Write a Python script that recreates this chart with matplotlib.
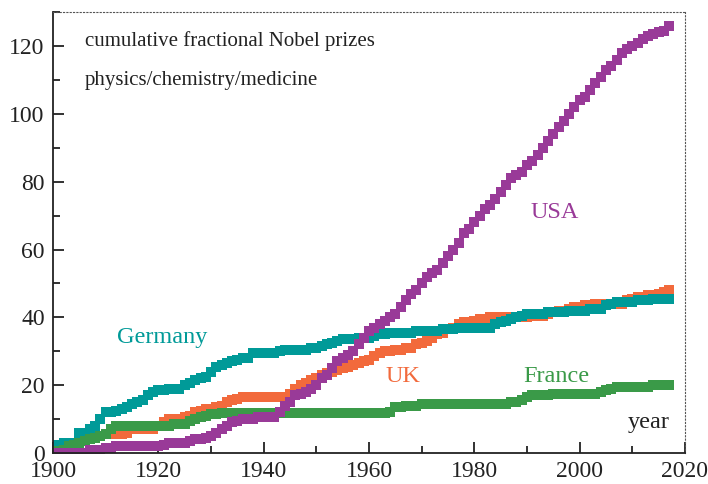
import numpy as np
import matplotlib
matplotlib.use('Agg')
import matplotlib.pyplot as plt
from matplotlib.ticker import MultipleLocator

# cumulative fractional Nobel prizes (physics/chemistry/medicine), 1901-2017
years = list(range(1901, 2018))

usa = [0, 0, 0, 0, 0, 0, 1, 1, 1, 1.5,
       1.5, 2, 2, 2, 2, 2, 2, 2, 2, 2,
       2.5, 3, 3, 3, 3, 3.5, 4, 4, 4.5, 5,
       6, 7, 8, 9, 9.5, 10, 10, 10, 10.5, 10.5,
       10.5, 10.5, 12, 14, 15, 17, 17.5, 18, 19, 20,
       22, 23, 25, 27, 28, 29, 30, 32, 34, 36,
       37, 38, 39, 40, 41, 43, 45, 47, 48, 50,
       52, 53, 54, 56, 58, 60, 62, 65, 66, 68,
       70, 72, 73, 75, 77, 79, 81, 82, 83, 85,
       86, 88, 90, 92, 94, 96, 98, 100, 102, 104,
       105, 107, 109, 111, 113, 114, 116, 118, 119, 120,
       121, 122, 123, 123.5, 124, 124.5, 126]

uk = [0.5, 1, 1, 3, 3.5, 4, 5, 5, 5, 5.5,
      5.5, 5.5, 5.5, 6, 7, 7, 7, 7, 7, 8,
      9, 10, 10, 10, 10.5, 11, 12, 12.5, 13, 13,
      13.5, 14, 15, 15.5, 16, 16.5, 16.5, 16.5, 16.5, 16.5,
      16.5, 16.5, 16.5, 16.5, 17.5, 19, 20, 20.5, 21.5, 22,
      23, 23.5, 24, 24.5, 25, 25.5, 26, 26.5, 27, 27.5,
      28.5, 29.5, 30, 30, 30.5, 30.5, 31, 31, 32, 32.5,
      33, 34, 35, 35.5, 36.5, 37, 38, 38.5, 38.5, 39,
      39.5, 39.5, 40, 40, 40, 40, 40, 40, 40, 40,
      40.5, 40.5, 40.5, 41, 41.5, 42, 42, 42.5, 43, 43,
      43.5, 43.5, 44, 44, 44, 44, 44, 44, 45, 45.5,
      46, 46, 46.5, 46.5, 47, 47.5, 48]

germany = [2.5, 3, 3, 3, 6, 6, 7, 8, 10, 12,
           12, 12.5, 13, 13.5, 14.5, 15, 15.5, 17, 18, 18.5,
           18.5, 19, 19, 19, 20, 20.5, 21.5, 22, 22.5, 24,
           25.5, 26, 26.5, 27, 27.5, 28, 28, 29.5, 29.5, 29.5,
           29.5, 29.5, 30, 30.5, 30.5, 30.5, 30.5, 30.5, 31, 31,
           31.5, 32, 32.5, 33, 33.5, 33.5, 33.5, 34, 34, 34,
           34.5, 35, 35, 35.5, 35.5, 35.5, 35.5, 35.5, 36, 36,
           36, 36, 36, 36.5, 36.5, 36.5, 37, 37, 37, 37,
           37, 37, 37, 38, 38.5, 39, 39.5, 40, 40.5, 41,
           41, 41, 41, 41.5, 41.5, 41.5, 41.5, 42, 42, 42,
           42, 42.5, 42.5, 42.5, 43.5, 44, 44.5, 44.5, 44.5, 44.5,
           45, 45, 45, 45.5, 45.5, 45.5, 45.5]

france = [0.5, 1, 2, 2.5, 3, 3.5, 4, 4.5, 5, 5.5,
          7, 8, 8, 8, 8, 8, 8, 8, 8, 8,
          8, 8, 8.5, 8.5, 8.5, 9.5, 10, 10.5, 11, 11.5,
          11.5, 11.8, 11.8, 11.8, 11.8, 11.8, 11.8, 11.8, 11.8, 11.8,
          11.8, 11.8, 11.8, 11.8, 11.8, 11.8, 11.8, 11.8, 11.8, 11.8,
          11.8, 11.8, 11.8, 11.8, 11.8, 11.8, 11.8, 11.8, 11.8, 11.8,
          11.8, 11.8, 11.8, 12, 13.5, 13.5, 14, 14, 14, 14.5,
          14.5, 14.5, 14.5, 14.5, 14.5, 14.5, 14.5, 14.5, 14.5, 14.5,
          14.5, 14.5, 14.5, 14.5, 14.5, 14.5, 15, 15, 15.5, 16.5,
          17, 17, 17, 17, 17.5, 17.5, 17.5, 17.5, 17.5, 17.5,
          17.5, 17.5, 17.5, 18, 18.5, 19, 19.5, 19.5, 19.5, 19.5,
          19.5, 19.5, 19.5, 20, 20, 20, 20]

c_usa = '#993a98'
c_uk = '#f26a3c'
c_ger = '#009a98'
c_fra = '#3a9a48'

plt.rcParams['font.family'] = ['Liberation Serif', 'DejaVu Serif']

fig = plt.figure(figsize=(7.08, 4.84), dpi=100)
ax = fig.add_axes([0.075, 0.064, 0.8925, 0.911])

ms = 6.6
ax.plot(years, uk, 's', color=c_uk, ms=ms, mew=0)
ax.plot(years, germany, 's', color=c_ger, ms=ms, mew=0)
ax.plot(years, france, 's', color=c_fra, ms=ms, mew=0)
ax.plot(years, usa, 's', color=c_usa, ms=ms, mew=0)

ax.set_xlim(1900, 2020)
ax.set_ylim(0, 130)
ax.xaxis.set_major_locator(MultipleLocator(20))
ax.xaxis.set_minor_locator(MultipleLocator(10))
ax.yaxis.set_major_locator(MultipleLocator(20))
ax.yaxis.set_minor_locator(MultipleLocator(10))
ax.tick_params(which='both', direction='in', width=1.3, colors='#222222',
               labelsize=17, top=False, right=False)
ax.tick_params(which='major', length=8)
ax.tick_params(which='minor', length=5)
ax.tick_params(axis='y', pad=6)
ax.tick_params(axis='x', pad=6)

for s in ['left', 'bottom']:
    ax.spines[s].set_linewidth(1.3)
    ax.spines[s].set_color('#222222')
for s in ['top', 'right']:
    ax.spines[s].set_linestyle((0, (1, 2)))
    ax.spines[s].set_linewidth(0.8)
    ax.spines[s].set_color('#555555')

ax.text(0.05, 0.935, 'cumulative fractional Nobel prizes', transform=ax.transAxes,
        fontsize=15, color='#222222', va='center')
ax.text(0.05, 0.845, 'physics/chemistry/medicine', transform=ax.transAxes,
        fontsize=15, color='#222222', va='center')

ax.text(1920.8, 34, 'Germany', color=c_ger, fontsize=17.5, ha='center', va='center')
ax.text(1995.3, 71, 'USA', color=c_usa, fontsize=17.5, ha='center', va='center')
ax.text(1966.4, 22.5, 'UK', color=c_uk, fontsize=17.5, ha='center', va='center')
ax.text(1995.6, 22.5, 'France', color=c_fra, fontsize=17.5, ha='center', va='center')
ax.text(2017, 9, 'year', color='#222222', fontsize=17.5, ha='right', va='center')

fig.savefig('out.png', dpi=100)
